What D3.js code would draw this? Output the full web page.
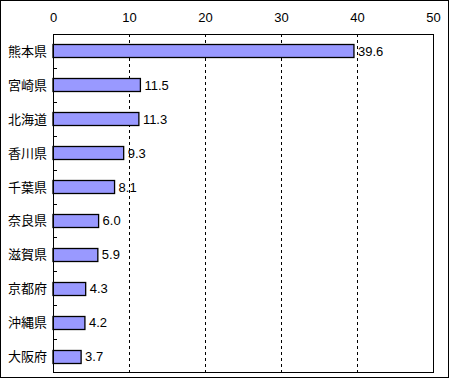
<!DOCTYPE html>
<html><head><meta charset="utf-8">
<script src="https://cdn.jsdelivr.net/npm/d3@7"></script>
<style>body{margin:0;background:#fff}svg{display:block}.cat{font-family:"Noto Sans CJK JP",sans-serif}.num{font-family:"Liberation Sans","DejaVu Sans",sans-serif}</style>
</head><body>
<script>
const categories = ["熊本県","宮崎県","北海道","香川県","千葉県","奈良県","滋賀県","京都府","沖縄県","大阪府"];
const values = [39.6,11.5,11.3,9.3,8.1,6.0,5.9,4.3,4.2,3.7];
const xTicks = [0,10,20,30,40,50];

const W=450,H=379;
const m={l:53,r:17,t:34,b:6};
const svg=d3.select("body").append("svg").attr("width",W).attr("height",H);
svg.append("rect").attr("x",0.5).attr("y",0.5).attr("width",W-2).attr("height",H-2).attr("fill","#fff").attr("stroke","#000");
const x=d3.scaleLinear().domain([0,50]).range([m.l,W-m.r]);
const yb=d3.scaleBand().domain(categories).range([m.t,H-m.b]);
// grid
svg.selectAll(".grid").data(xTicks.filter(d=>d>0&&d<50)).join("line")
 .attr("x1",d=>Math.round(x(d))+0.5).attr("x2",d=>Math.round(x(d))+0.5)
 .attr("y1",m.t).attr("y2",H-m.b).attr("stroke","#000").attr("stroke-dasharray","3,3");
// top axis labels
const ax=d3.axisTop(x).tickValues(xTicks).tickSize(0).tickPadding(0);
const g=svg.append("g").attr("transform","translate(0,22)").call(ax);
g.select(".domain").remove();
g.selectAll("text").attr("class","num").attr("font-size",13).attr("font-family",null).attr("fill","#000");
// bars
svg.selectAll(".bar").data(values).join("rect")
 .attr("x",x(0)).attr("y",(d,i)=>Math.round(yb(categories[i])+yb.bandwidth()/2-6.5)+0.5)
 .attr("width",d=>x(d)-x(0)).attr("height",13)
 .attr("fill","#9999ff").attr("stroke","#000").attr("stroke-width",1.3);
// value labels
svg.selectAll(".vl").data(values).join("text").attr("class","num")
 .attr("x",d=>x(d)+4).attr("y",(d,i)=>yb(categories[i])+yb.bandwidth()/2+5)
 .attr("font-size",13).text(d=>d.toFixed(1));
// plot frame
svg.append("rect").attr("x",m.l+0.5).attr("y",m.t+0.5).attr("width",x(50)-m.l).attr("height",H-m.b-m.t-1)
 .attr("fill","none").attr("stroke","#000");
// left axis ticks between categories
svg.selectAll(".yt").data(categories.slice(1)).join("line")
 .attr("x1",m.l).attr("x2",m.l+4).attr("y1",d=>Math.round(yb(d))+0.5).attr("y2",d=>Math.round(yb(d))+0.5).attr("stroke","#000");
// category labels
svg.selectAll(".cl").data(categories).join("text").attr("class","cat")
 .attr("x",47).attr("y",d=>yb(d)+yb.bandwidth()/2+5).attr("text-anchor","end")
 .attr("font-size",13).text(d=>d);
</script>
</body></html>
